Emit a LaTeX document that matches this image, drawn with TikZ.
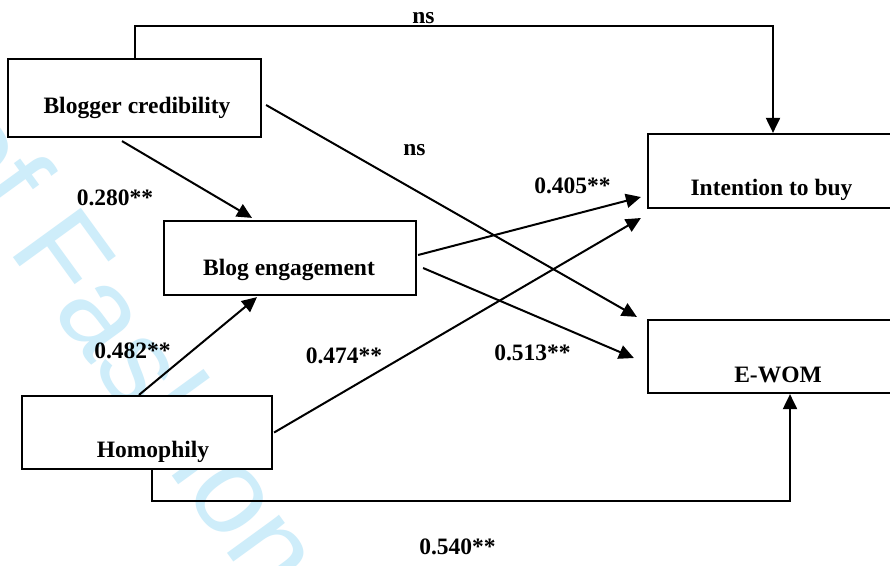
\documentclass[tikz,border=0pt]{standalone}
\usepackage{fontspec}
\setmainfont{Liberation Serif}
\newfontfamily\wmfont{Liberation Sans}
\usetikzlibrary{arrows.meta,calc}
\definecolor{wmblue}{RGB}{206,237,250}
\tikzset{
  box/.style={draw=black, line width=2.2pt, fill=white, inner sep=0pt},
  lbl/.style={anchor=base, inner sep=0pt, font=\fontsize{23.5}{27}\selectfont\bfseries},
  conn/.style={draw=black, line width=2pt},
  arr/.style={conn, -{Triangle[length=15pt,width=14pt]}},
}
\begin{document}
\begin{tikzpicture}[x=1pt,y=-1pt]
\useasboundingbox (0,0) rectangle (890,565);
\clip (0,0) rectangle (890,565);
\fill[white] (0,0) rectangle (890,565);
% watermark
\node[anchor=base west, inner sep=0pt, rotate=-54, text=wmblue,
      font=\fontsize{122}{126}\selectfont\wmfont] (wm) at (-72,140) {of Fashion};
% boxes
\node[box, minimum width=253pt, minimum height=78pt] (bc) at (134.5,98) {};
\node[box, minimum width=252pt, minimum height=74pt] (be) at (290,258) {};
\node[box, minimum width=250pt, minimum height=73pt] (ho) at (147,432.5) {};
\node[box, minimum width=250pt, minimum height=74pt] (ib) at (773,171) {};
\node[box, minimum width=250pt, minimum height=73pt] (ew) at (773,356.5) {};
% box texts
\node[lbl] (tbc) at (137,113) {Blogger credibility};
\node[lbl] (tbe) at (289,275) {Blog engagement};
\node[lbl] (tho) at (153,457) {Homophily};
\node[lbl] (tib) at (771.5,195) {Intention to buy};
\node[lbl] (tew) at (778,382) {E-WOM};
% connectors
\coordinate (topc) at (773,26);
\coordinate (botc) at (790,501);
\draw[arr] (bc.north) |- (topc) -- (ib.north);
\draw[arr] ($(bc.east)+(4,7)$) -- ($(ew.north west)+(-10,-2)$);
\draw[arr] ($(bc.south)+(-12.5,3)$) -- ($(be.north)+(-38,-2)$);
\draw[arr] ($(be.east)+(1,-3)$) -- ($(ib.west)+(-6,26)$);
\draw[arr] ($(be.east)+(6,10)$) -- ($(ew.west)+(-13,1.5)$);
\draw[arr] ($(ho.north)+(-8,0)$) -- ($(be.south)+(-33,1)$);
\draw[arr] ($(ho.east)+(1,0)$) -- ($(ib.west)+(-6,47)$);
\draw[arr] ($(ho.south)+(5,0)$) |- (botc) -- ($(ew.south)+(17,0)$);
% path labels
\node[lbl] (l1) at (423.5,23) {ns};
\node[lbl] (l2) at (414.5,155) {ns};
\node[lbl] (l3) at (115,205) {0.280**};
\node[lbl] (l4) at (572.5,193) {0.405**};
\node[lbl] (l5) at (532.5,360) {0.513**};
\node[lbl] (l6) at (132.5,358) {0.482**};
\node[lbl] (l7) at (344,363) {0.474**};
\node[lbl] (l8) at (457.5,554) {0.540**};
\end{tikzpicture}
\end{document}
